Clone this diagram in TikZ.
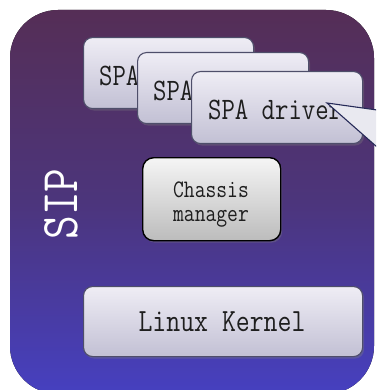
\documentclass[tikz,border=0pt]{standalone}
\usepackage{fontspec}
\usepackage{graphicx}
\usetikzlibrary{shadows}

% palette
\definecolor{bgtop}{RGB}{85,46,86}
\definecolor{bgmid}{RGB}{76,53,124}
\definecolor{bgbot}{RGB}{70,64,192}
\definecolor{cardtop}{RGB}{239,237,245}
\definecolor{cardbot}{RGB}{194,192,212}
\definecolor{cardline}{RGB}{78,78,106}
\definecolor{graytop}{RGB}{245,245,245}
\definecolor{graybot}{RGB}{188,188,188}
\definecolor{inktext}{RGB}{30,30,30}
\definecolor{callfill}{RGB}{233,233,240}
\definecolor{callline}{RGB}{38,42,88}

% monospace text, slightly stretched vertically
\newcommand\tallmono[1]{\scalebox{1}[1.2]{#1}}

\tikzset{
  panel/.style={rounded corners=48pt, top color=bgtop, bottom color=bgbot, middle color=bgmid},
  card/.style={draw=cardline, line width=1.1pt, rounded corners=9pt,
    top color=cardtop, bottom color=cardbot, anchor=north west,
    drop shadow={shadow xshift=1.5pt, shadow yshift=-2pt, opacity=0.35}},
  graycard/.style={draw=black, line width=1.4pt, rounded corners=11pt,
    top color=graytop, bottom color=graybot, anchor=north west,
    drop shadow={shadow xshift=1.5pt, shadow yshift=-2pt, opacity=0.35}},
  label/.style={inner sep=0pt, text=inktext},
}

\begin{document}
\begin{tikzpicture}[x=1pt, y=-1pt]
  \useasboundingbox (0,0) rectangle (376,390);
  \clip (0,0) rectangle (376,390);

  % outer SIP panel
  \fill[panel] (10,10) rectangle (374,394);
  \node[inner sep=0pt, text=white, rotate=90,
        font=\ttfamily\fontsize{46}{50}\selectfont] (sip) at (61,204)
        {\scalebox{1}[1.15]{SIP}};

  % stacked SPA driver cards
  \node[card, minimum width=170pt, minimum height=71pt] (spa1) at (83,37) {};
  \node[label, anchor=west, font=\ttfamily\fontsize{26}{30}\selectfont] (spa1t) at (99,76) {\tallmono{SPA}};
  \node[card, minimum width=171pt, minimum height=71pt] (spa2) at (137,52) {};
  \node[label, anchor=west, font=\ttfamily\fontsize{26}{30}\selectfont] (spa2t) at (153,91) {\tallmono{SPA}};
  \node[card, minimum width=171pt, minimum height=72pt] (spa3) at (191,71) {};
  \node[label, anchor=west, font=\ttfamily\fontsize{26}{30}\selectfont] (spa3t) at (208,110) {\tallmono{SPA driver}};

  % callout pointer entering from the right
  \coordinate (tip) at (327,103);
  \coordinate (cup) at (377,110);
  \coordinate (clo) at (377,147);
  \fill[callfill] (tip) -- (cup) -- (clo) -- cycle;
  \draw[callline, line width=1.1pt, line join=miter] (cup) -- (tip) -- (clo);

  % chassis manager
  \node[graycard, minimum width=138pt, minimum height=83pt] (chassis) at (142,157) {};
  \node[label, align=center, font=\ttfamily\fontsize{21}{24}\selectfont] (chassist) at (211,205)
        {\tallmono{Chassis}\\\tallmono{manager}};

  % linux kernel
  \node[card, minimum width=279pt, minimum height=70pt] (kernel) at (83,286) {};
  \node[label, font=\ttfamily\fontsize{27}{30}\selectfont] (kernelt) at (222,322) {\tallmono{Linux Kernel}};
\end{tikzpicture}
\end{document}
